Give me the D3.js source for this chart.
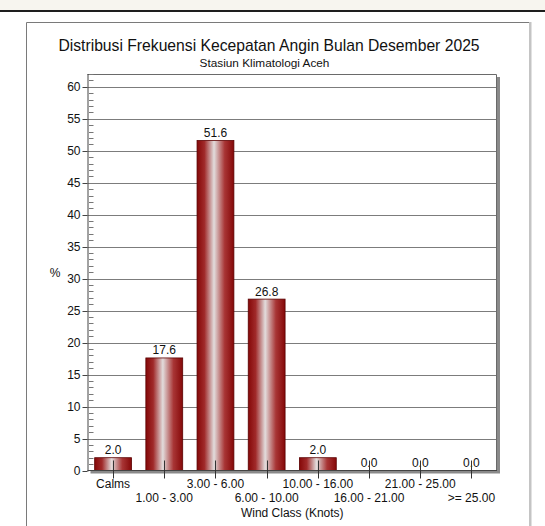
<!DOCTYPE html>
<html>
<head>
<meta charset="utf-8">
<script src="https://cdn.jsdelivr.net/npm/d3@7"></script>
<style>
  html, body { margin: 0; padding: 0; background: #ffffff; }
  svg { display: block; font-family: "Liberation Sans", Arial, sans-serif; }
</style>
</head>
<body>
<svg id="chart" width="545" height="526"></svg>
<script>
// Wind speed frequency distribution, December 2025
const categories = ["Calms", "1.00 - 3.00", "3.00 - 6.00", "6.00 - 10.00",
                    "10.00 - 16.00", "16.00 - 21.00", "21.00 - 25.00", ">= 25.00"];
const values = [2.0, 17.6, 51.6, 26.8, 2.0, 0.0, 0.0, 0.0];
const yTicks = [0, 5, 10, 15, 20, 25, 30, 35, 40, 45, 50, 55, 60];
const yMinorTicks = d3.range(0, 63, 1);

const titleText = "Distribusi Frekuensi Kecepatan Angin Bulan Desember 2025";
const subtitleText = "Stasiun Klimatologi Aceh";
const xTitle = "Wind Class (Knots)";
const yTitle = "%";

(function draw() {
  const svg = d3.select("#chart");
  const W = 545, H = 526;

  // window chrome: pale band with a dark rule under it
  svg.append("rect").attr("x", 0).attr("y", 0).attr("width", W).attr("height", 11).attr("fill", "#f7f5ef");
  svg.append("rect").attr("x", 0).attr("y", 10).attr("width", W).attr("height", 2).attr("fill", "#1e1e1e");

  // outer frame
  svg.append("line").attr("x1", 26.5).attr("x2", 26.5).attr("y1", 22.5).attr("y2", H).attr("stroke", "#7a7a7a");
  svg.append("line").attr("x1", 26.5).attr("x2", 530).attr("y1", 22.5).attr("y2", 22.5).attr("stroke", "#7a7a7a");
  svg.append("rect").attr("x", 529).attr("y", 22).attr("width", 2.5).attr("height", H - 22).attr("fill", "#c4c4c4");

  // titles
  svg.append("text").attr("x", 269).attr("y", 51).attr("text-anchor", "middle")
    .attr("font-size", 15.7).attr("fill", "#111").text(titleText);
  svg.append("text").attr("x", 264.5).attr("y", 67).attr("text-anchor", "middle")
    .attr("font-size", 11.8).attr("fill", "#111").text(subtitleText);

  // plot geometry
  const pLeft = 87.5, pRight = 497, pTop = 74, pBottom = 470.5;

  const x = d3.scaleBand().domain(categories).range([pLeft, pRight])
    .paddingInner(0.28).paddingOuter(0.14);
  const y = d3.scaleLinear().domain([0, 62]).range([pBottom, pTop]);

  // drop shadow and plot background
  svg.append("rect").attr("x", pLeft + 3).attr("y", pTop + 3)
    .attr("width", pRight - pLeft).attr("height", pBottom - pTop).attr("fill", "#8a8a8a");
  svg.append("rect").attr("x", pLeft).attr("y", pTop)
    .attr("width", pRight - pLeft).attr("height", pBottom - pTop).attr("fill", "#ffffff");

  // horizontal gridlines
  svg.append("g").selectAll("line").data(yTicks.filter(d => d > 0)).join("line")
    .attr("x1", pLeft).attr("x2", pRight)
    .attr("y1", d => Math.round(y(d)) + 0.5).attr("y2", d => Math.round(y(d)) + 0.5)
    .attr("stroke", "#7c7c7c").attr("stroke-width", 1);

  // plot border (top / right)
  svg.append("path")
    .attr("d", `M${pLeft},${pTop + 0.5}H${pRight - 0.5}V${pBottom}`)
    .attr("fill", "none").attr("stroke", "#6a6a6a");

  // bar gradient: dark red edges, pale centre
  const defs = svg.append("defs");
  const grad = defs.append("linearGradient").attr("id", "barGrad")
    .attr("x1", "0%").attr("x2", "100%").attr("y1", "0%").attr("y2", "0%");
  [[0, "#850808"], [0.2, "#a02a2a"], [0.46, "#e2dcdc"], [0.75, "#a83535"], [1, "#850808"]]
    .forEach(([o, c]) => grad.append("stop").attr("offset", o).attr("stop-color", c));

  // bars
  svg.append("g").selectAll("rect").data(values).join("rect")
    .attr("x", (d, i) => x(categories[i]))
    .attr("y", d => y(d))
    .attr("width", x.bandwidth())
    .attr("height", d => pBottom - y(d))
    .attr("fill", "url(#barGrad)")
    .attr("stroke", d => d > 0 ? "#5a0000" : "none")
    .attr("stroke-width", 0.8);

  // value labels
  const fmt = d3.format(".1f");
  svg.append("g").selectAll("text").data(values).join("text")
    .attr("x", (d, i) => x(categories[i]) + x.bandwidth() / 2)
    .attr("y", d => y(d) - 3.5)
    .attr("text-anchor", "middle").attr("font-size", 12).attr("fill", "#111")
    .text(d => fmt(d));

  // y axis: line, minor ticks inside, major ticks outside
  const yAxis = svg.append("g");
  yAxis.append("line").attr("x1", pLeft + 0.5).attr("x2", pLeft + 0.5)
    .attr("y1", pTop).attr("y2", pBottom + 1).attr("stroke", "#444");
  yAxis.selectAll("line.minor").data(yMinorTicks.filter(d => d % 5 !== 0)).join("line")
    .attr("class", "minor")
    .attr("x1", pLeft + 1.5).attr("x2", pLeft + 6)
    .attr("y1", d => Math.round(y(d)) + 0.5).attr("y2", d => Math.round(y(d)) + 0.5)
    .attr("stroke", "#777");
  yAxis.selectAll("line.major").data(yTicks).join("line")
    .attr("class", "major")
    .attr("x1", pLeft - 5).attr("x2", pLeft)
    .attr("y1", d => Math.round(y(d)) + 0.5).attr("y2", d => Math.round(y(d)) + 0.5)
    .attr("stroke", "#444");
  yAxis.selectAll("text").data(yTicks).join("text")
    .attr("x", pLeft - 7).attr("y", d => y(d) + 4.3)
    .attr("text-anchor", "end").attr("font-size", 12).attr("fill", "#111")
    .text(d => d);

  svg.append("text").attr("x", 55).attr("y", 277).attr("text-anchor", "middle")
    .attr("font-size", 12).attr("fill", "#111").text(yTitle);

  // x axis baseline
  svg.append("line").attr("x1", pLeft).attr("x2", pRight)
    .attr("y1", pBottom).attr("y2", pBottom).attr("stroke", "#444").attr("stroke-width", 1.2);

  // x ticks through bar centres
  svg.append("g").selectAll("line").data(categories).join("line")
    .attr("x1", d => Math.round(x(d) + x.bandwidth() / 2) + 0.5)
    .attr("x2", d => Math.round(x(d) + x.bandwidth() / 2) + 0.5)
    .attr("y1", pBottom - 10).attr("y2", pBottom + 8)
    .attr("stroke", "#333");

  // staggered category labels
  svg.append("g").selectAll("text").data(categories).join("text")
    .attr("x", d => x(d) + x.bandwidth() / 2)
    .attr("y", (d, i) => i % 2 === 0 ? 487.5 : 501.5)
    .attr("text-anchor", "middle").attr("font-size", 12).attr("fill", "#111")
    .text(d => d);

  svg.append("text").attr("x", (pLeft + pRight) / 2).attr("y", 516.5).attr("text-anchor", "middle")
    .attr("font-size", 12).attr("fill", "#111").text(xTitle);
})();
</script>
</body>
</html>
